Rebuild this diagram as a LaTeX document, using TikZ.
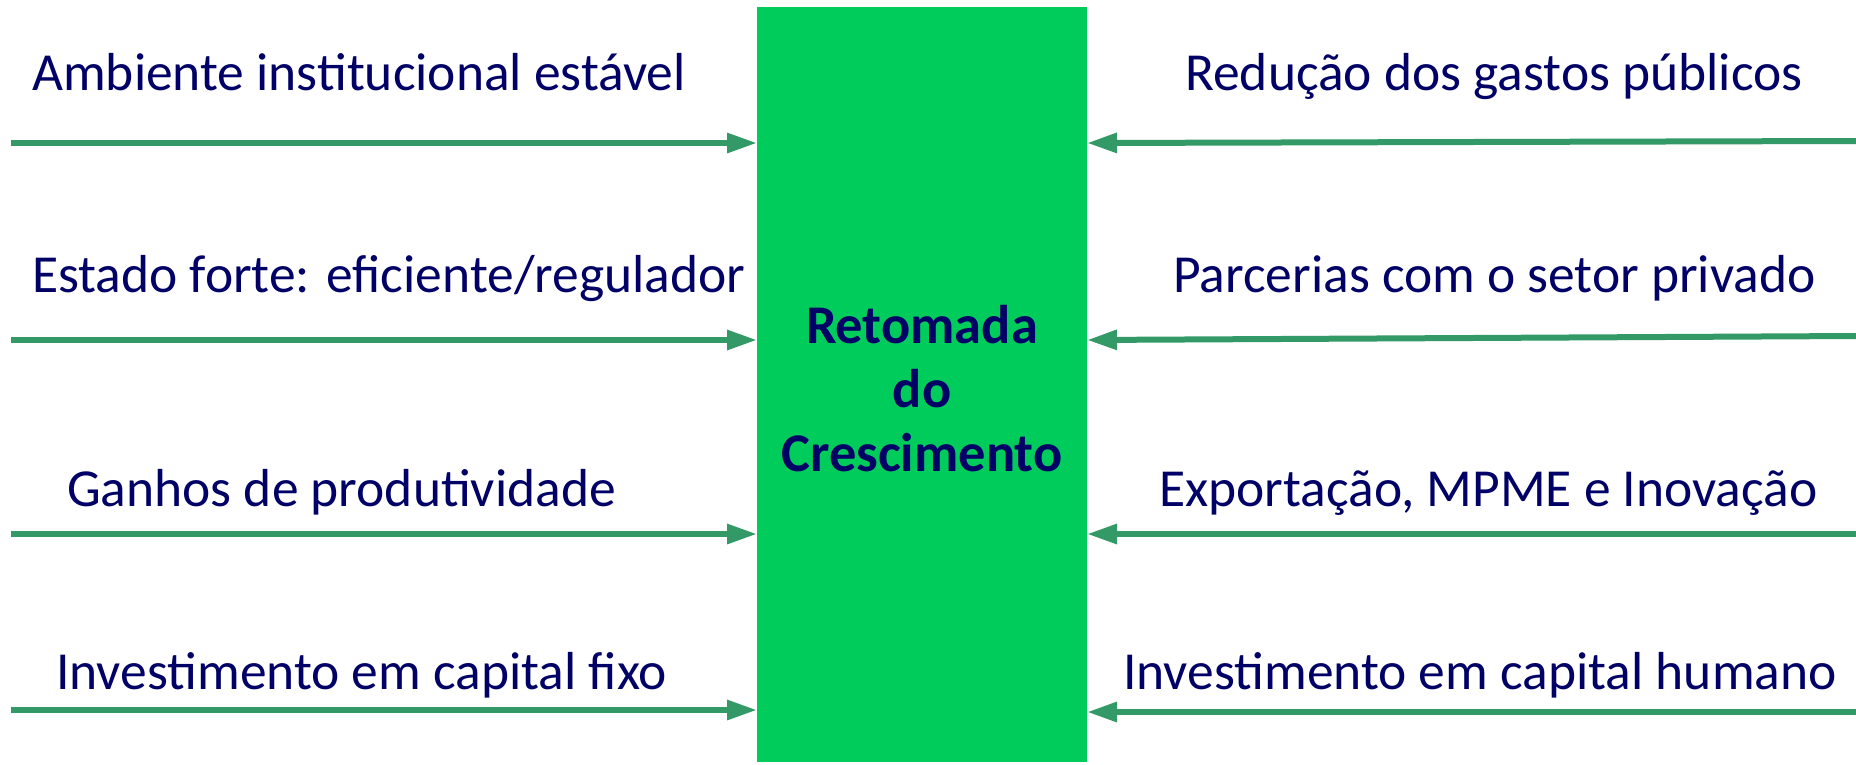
\documentclass[tikz,border=0pt]{standalone}
\usepackage{fontspec}
\setmainfont{Carlito}
\usetikzlibrary{arrows.meta}
\definecolor{boxgreen}{RGB}{0,204,92}
\definecolor{arrgreen}{RGB}{51,153,102}
\definecolor{navy}{RGB}{0,0,102}
\tikzset{
  lbl/.style={anchor=base west, inner sep=0pt, text=navy, font=\fontsize{53.5}{65}\selectfont},
  conn/.style={draw=arrgreen, line width=6pt, -{Triangle[length=30pt,width=19pt]}},
  mainbox/.style={fill=boxgreen, draw=none, minimum width=330pt, minimum height=755pt, inner sep=0pt, anchor=north west}
}
\begin{document}
\begin{tikzpicture}[x=1pt,y=-1pt]
\useasboundingbox (0,0) rectangle (1856,764);
\node[mainbox] (box) at (757,7) {};
\node[text=navy, font=\fontsize{54.5}{64}\selectfont\bfseries, align=center, inner sep=0pt] (title) at (922,389) {Retomada\\do\\Crescimento};
% left labels
\node[lbl] (t1) at (32,90) {Ambiente institucional estável};
\node[lbl] (t2) at (32,292) {Estado forte: eficiente/regulador};
\node[lbl] (t3) at (67,506) {Ganhos de produtividade};
\node[lbl] (t4) at (56,689) {Investimento em capital fixo};
% right labels
\node[lbl] (r1) at (1185,90) {Redução dos gastos públicos};
\node[lbl] (r2) at (1173,292) {Parcerias com o setor privado};
\node[lbl] (r3) at (1159,506) {Exportação, MPME e Inovação};
\node[lbl] (r4) at (1123,689) {Investimento em capital humano};
% arrow start points
\coordinate (a1) at (11,143);
\coordinate (a2) at (11,340);
\coordinate (a3) at (11,534);
\coordinate (a4) at (11,710);
\coordinate (b1) at (1856,141);
\coordinate (b2) at (1856,336);
\coordinate (b3) at (1856,534);
\coordinate (b4) at (1856,712);
\coordinate (e1) at (1087,143);
\coordinate (e2) at (1087,340);
\coordinate (e3) at (1087,534);
\coordinate (e4) at (1087,712);
\draw[conn] (a1) -- (box.west |- a1);
\draw[conn] (a2) -- (box.west |- a2);
\draw[conn] (a3) -- (box.west |- a3);
\draw[conn] (a4) -- (box.west |- a4);
\draw[conn] (b1) -- (e1);
\draw[conn] (b2) -- (e2);
\draw[conn] (b3) -- (e3);
\draw[conn] (b4) -- (e4);
\end{tikzpicture}
\end{document}
